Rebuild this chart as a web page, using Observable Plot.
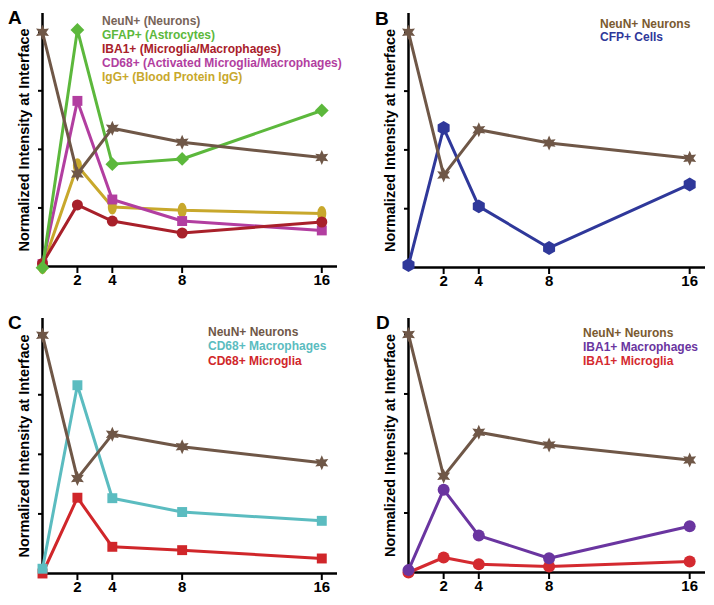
<!DOCTYPE html>
<html><head><meta charset="utf-8">
<script src="https://cdn.jsdelivr.net/npm/d3@7"></script>
<script src="https://cdn.jsdelivr.net/npm/@observablehq/plot@0.6"></script>
<style>
body{margin:0;background:#fff;}
#fig{position:relative;width:714px;height:605px;font-family:"Liberation Sans",Arial,sans-serif;overflow:hidden;}
.panel{position:absolute;}
.panel svg{overflow:visible;}
.letter{position:absolute;font-weight:bold;font-size:19px;line-height:19px;color:#000;}
.legend{position:absolute;font-weight:bold;font-size:12px;white-space:nowrap;}
</style></head><body><div id="fig"></div>
<script>
// ---- data ----
const days = [0, 2, 4, 8, 16];
const xTicks = [2, 4, 8, 16];
const yTicks = [0.25, 0.5, 0.75, 1];
const yLabel = "Normalized Intensity at Interface";

// Panel A
const aNeuN = [1.0, 0.395, 0.59, 0.53, 0.465];
const aGFAP = [-0.005, 1.01, 0.437, 0.459, 0.666];
const aIBA1 = [0.013, 0.263, 0.194, 0.143, 0.19];
const aCD68 = [0.01, 0.707, 0.286, 0.194, 0.154];
const aIgG  = [0.0, 0.43, 0.254, 0.24, 0.226];
// Panel B
const bNeuN = [1.0, 0.393, 0.586, 0.529, 0.465];
const bCFP  = [0.01, 0.593, 0.26, 0.083, 0.353];
// Panel C
const cNeuN = [1.0, 0.399, 0.584, 0.532, 0.465];
const cCD68Mac = [0.02, 0.79, 0.316, 0.258, 0.221];
const cCD68Mic = [0.0, 0.318, 0.112, 0.098, 0.063];
// Panel D
const dNeuN = [1.0, 0.404, 0.589, 0.536, 0.473];
const dIBA1Mac = [0.01, 0.348, 0.155, 0.06, 0.194];
const dIBA1Mic = [0.0, 0.063, 0.035, 0.025, 0.046];

// ---- symbols ----
const star6 = {draw(ctx, size) {
  const r = Math.sqrt(size / Math.PI), ri = r * 0.5;
  for (let i = 0; i < 12; i++) {
    const a = -Math.PI / 2 + i * Math.PI / 6, rr = i % 2 ? ri : r;
    const x = rr * Math.cos(a), y = rr * Math.sin(a);
    i ? ctx.lineTo(x, y) : ctx.moveTo(x, y);
  }
  ctx.closePath();
}};
const ellipseV = {draw(ctx, size) {
  const r = Math.sqrt(size / Math.PI), rx = r * 0.6, ry = r, k = 0.5523;
  ctx.moveTo(0, -ry);
  ctx.bezierCurveTo(k * rx, -ry, rx, -k * ry, rx, 0);
  ctx.bezierCurveTo(rx, k * ry, k * rx, ry, 0, ry);
  ctx.bezierCurveTo(-k * rx, ry, -rx, k * ry, -rx, 0);
  ctx.bezierCurveTo(-rx, -k * ry, -k * rx, -ry, 0, -ry);
  ctx.closePath();
}};

const brown = "#6f5747";
const panels = [
  {letter: "A", left: 0, top: 0, width: 357, height: 300, mL: 42, mR: 20, mT: 13, mB: 34, yMax: 1.08,
   letterPos: [8, 7.5], legendPos: [102, 15], lineH: 13.9,
   series: [
     {name: "NeuN+ (Neurons)", v: aNeuN, color: brown, text: "#786458", symbol: star6, r: 7.5},
     {name: "GFAP+ (Astrocytes)", v: aGFAP, color: "#5cb83c", text: "#5cb83c", symbol: "diamond2", r: 6.2},
     {name: "IBA1+ (Microglia/Macrophages)", v: aIBA1, color: "#a8202a", text: "#a8202a", symbol: "circle", r: 5.5},
     {name: "CD68+ (Activated Microglia/Macrophages)", v: aCD68, color: "#b23ea0", text: "#b23ea0", symbol: "square", r: 5.6},
     {name: "IgG+ (Blood Protein IgG)", v: aIgG, color: "#c8a82c", text: "#c8a82c", symbol: ellipseV, r: 7.5}
   ]},
  {letter: "B", left: 355, top: 0, width: 359, height: 300, mL: 53, mR: 9, mT: 13, mB: 33, yMax: 1.08,
   letterPos: [375, 9], legendPos: [600, 18], lineH: 13.3,
   series: [
     {name: "NeuN+ Neurons", v: bNeuN, color: brown, text: "#7a5a30", symbol: star6, r: 7.5},
     {name: "CFP+ Cells", v: bCFP, color: "#2f389a", text: "#2f389a", symbol: "hexagon", r: 6}
   ]},
  {letter: "C", left: 0, top: 300, width: 357, height: 305, mL: 42, mR: 20, mT: 18, mB: 32, yMax: 1.07,
   letterPos: [8, 312.5], legendPos: [208, 324.5], lineH: 14.5,
   series: [
     {name: "NeuN+ Neurons", v: cNeuN, color: brown, text: "#6f5747", symbol: star6, r: 7.5},
     {name: "CD68+ Macrophages", v: cCD68Mac, color: "#5bbcc0", text: "#5bbcc0", symbol: "square", r: 5.6},
     {name: "CD68+ Microglia", v: cCD68Mic, color: "#d0262a", text: "#d0262a", symbol: "square", r: 5.6}
   ]},
  {letter: "D", left: 355, top: 300, width: 359, height: 305, mL: 53, mR: 9, mT: 18, mB: 33, yMax: 1.067,
   letterPos: [376, 312.5], legendPos: [583, 326], lineH: 14.2,
   series: [
     {name: "NeuN+ Neurons", v: dNeuN, color: brown, text: "#7a5a30", symbol: star6, r: 7.5},
     {name: "IBA1+ Macrophages", v: dIBA1Mac, color: "#6a35a0", text: "#6a35a0", symbol: "circle", r: 6},
     {name: "IBA1+ Microglia", v: dIBA1Mic, color: "#d42a30", text: "#d42a30", symbol: "circle", r: 6}
   ]}
];

const fig = document.getElementById("fig");
for (const p of panels) {
  const marks = [
    Plot.ruleX([0], {stroke: "#000", strokeWidth: 2.5}),
    Plot.ruleY([0], {stroke: "#000", strokeWidth: 2.5}),
    Plot.axisX(xTicks, {tickSize: 7, tickPadding: 1, strokeWidth: 2, fontSize: 15, fontWeight: "bold", label: null, fill: "#000"}),
    Plot.axisY(yTicks, {tickSize: 4, strokeWidth: 2, tickFormat: () => "", label: yLabel, labelAnchor: "center",
      labelArrow: "none", labelOffset: 24, fontSize: 14.5, fontWeight: "bold", fill: "#000"})
  ];
  for (const s of [...p.series].reverse()) {
    const data = days.map((d, i) => ({day: d, value: s.v[i]}));
    marks.push(Plot.line(data, {x: "day", y: "value", stroke: s.color, strokeWidth: 3}));
    marks.push(Plot.dot(data, {x: "day", y: "value", fill: s.color, symbol: s.symbol, r: s.r, stroke: "none"}));
  }
  const chart = Plot.plot({
    width: p.width, height: p.height,
    marginLeft: p.mL, marginRight: p.mR, marginTop: p.mT, marginBottom: p.mB,
    style: {fontFamily: "Liberation Sans, Arial, sans-serif", background: "transparent", overflow: "visible"},
    x: {domain: [0, 16.9]},
    y: {domain: [0, p.yMax]},
    marks
  });
  const div = document.createElement("div");
  div.className = "panel";
  div.style.left = p.left + "px"; div.style.top = p.top + "px";
  div.appendChild(chart);
  fig.appendChild(div);

  const letter = document.createElement("div");
  letter.className = "letter";
  letter.textContent = p.letter;
  letter.style.left = p.letterPos[0] + "px"; letter.style.top = p.letterPos[1] + "px";
  fig.appendChild(letter);

  const leg = document.createElement("div");
  leg.className = "legend";
  leg.style.left = p.legendPos[0] + "px"; leg.style.top = p.legendPos[1] + "px";
  leg.style.lineHeight = p.lineH + "px";
  for (const s of p.series) {
    const row = document.createElement("div");
    row.textContent = s.name;
    row.style.color = s.text;
    leg.appendChild(row);
  }
  fig.appendChild(leg);
}
</script></body></html>
